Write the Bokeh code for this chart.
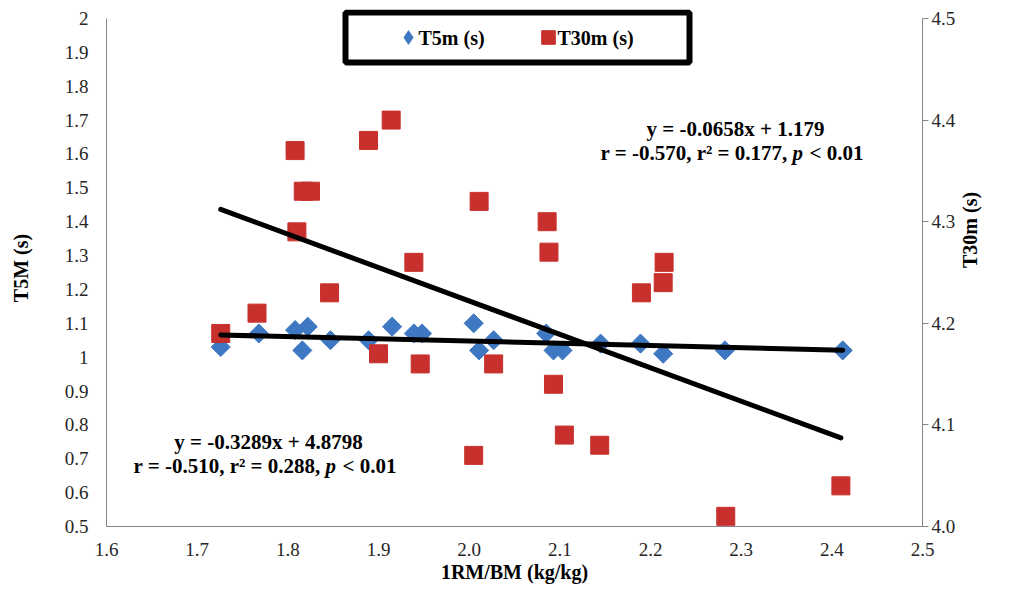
import numpy as np
from bokeh.plotting import figure
from bokeh.models import (Range1d, LinearAxis, FixedTicker, CustomJSTickFormatter,
                          Label, Legend, LegendItem, BoxAnnotation, Title)
from bokeh.embed import file_html
from bokeh.resources import INLINE

# ---------------- data ----------------
t5m_x = [1.726, 1.768, 1.808, 1.822, 1.816, 1.847, 1.889, 1.915, 1.939, 1.948, 2.005,
         2.011, 2.027, 2.085, 2.093, 2.103, 2.145, 2.189, 2.214, 2.282, 2.412]
t5m_y = [1.03, 1.07, 1.08, 1.09, 1.02, 1.05, 1.05, 1.09, 1.07, 1.07, 1.10,
         1.02, 1.05, 1.07, 1.02, 1.02, 1.04, 1.04, 1.01, 1.02, 1.02]

t30m_x = [1.726, 1.766, 1.808, 1.817, 1.825, 1.810, 1.846, 1.889, 1.914, 1.939, 1.900,
          1.946, 2.011, 2.086, 2.088, 2.215, 2.214, 2.190, 2.027, 2.093, 2.105, 2.144,
          2.005, 2.410, 2.283]
t30m_y = [4.19, 4.21, 4.37, 4.33, 4.33, 4.29, 4.23, 4.38, 4.40, 4.26, 4.17,
          4.16, 4.32, 4.30, 4.27, 4.26, 4.24, 4.23, 4.16, 4.14, 4.09, 4.08,
          4.07, 4.04, 4.01]

fit_t5m = [-0.0658, 1.179]     # slope, intercept (left axis)
fit_t30m = [-0.3289, 4.8798]   # slope, intercept (right axis)

series_labels = ["T5m (s)", "T30m (s)"]

x_ticks = [1.6, 1.7, 1.8, 1.9, 2.0, 2.1, 2.2, 2.3, 2.4, 2.5]
x_tick_labels = ["1.6", "1.7", "1.8", "1.9", "2.0", "2.1", "2.2", "2.3", "2.4", "2.5"]
left_ticks = [0.5, 0.6, 0.7, 0.8, 0.9, 1.0, 1.1, 1.2, 1.3, 1.4, 1.5, 1.6, 1.7, 1.8, 1.9, 2.0]
left_tick_labels = ["0.5", "0.6", "0.7", "0.8", "0.9", "1", "1.1", "1.2", "1.3", "1.4",
                    "1.5", "1.6", "1.7", "1.8", "1.9", "2"]
right_ticks = [4.0, 4.1, 4.2, 4.3, 4.4, 4.5]
right_tick_labels = ["4.0", "4.1", "4.2", "4.3", "4.4", "4.5"]

eq_upper = ["y = -0.0658x + 1.179", "r = -0.570, r\u00b2 = 0.177,", "p", "< 0.01"]
eq_lower = ["y = -0.3289x + 4.8798", "r = -0.510, r\u00b2 = 0.288,", "p", "< 0.01"]

# ---------------- styles ----------------
BLUE = "#3F78C2"
RED = "#C8302D"
AXIS_COLOR = "#868686"
TICK_TEXT = "#262626"
SERIF = "Liberation Serif"

# frame: 816 x 517 px; axes span 508 px; 9 px of headroom above for the legend box
HEAD = 9.0
LEFT_SPAN = 508.0
y_top_left = left_ticks[-1] + HEAD / LEFT_SPAN * (left_ticks[-1] - left_ticks[0])
y_top_right = right_ticks[-1] + HEAD / LEFT_SPAN * (right_ticks[-1] - right_ticks[0])


def fmt(ticks, labels):
    return CustomJSTickFormatter(args=dict(t=ticks, l=labels), code="""
        for (let i = 0; i < t.length; i++) {
            if (Math.abs(tick - t[i]) < 1e-6) { return l[i]; }
        }
        return '';
    """)


p = figure(frame_width=816, frame_height=517,
           x_range=Range1d(x_ticks[0], x_ticks[-1]),
           y_range=Range1d(left_ticks[0], y_top_left),
           output_backend="svg", toolbar_location=None,
           min_border_left=106, min_border_right=72, min_border_top=9, min_border_bottom=63)
p.extra_y_ranges = {"t30": Range1d(right_ticks[0], y_top_right)}
p.xgrid.visible = False
p.ygrid.visible = False
p.outline_line_color = None
p.background_fill_color = "white"
p.border_fill_color = "white"

right_axis = LinearAxis(y_range_name="t30")
p.add_layout(right_axis, "right")

xaxis = p.xaxis[0]
yaxis = p.yaxis[0]
for ax in (xaxis, yaxis, right_axis):
    ax.axis_line_color = AXIS_COLOR
    ax.axis_line_width = 1
    ax.major_tick_line_color = AXIS_COLOR
    ax.minor_tick_line_color = None
    ax.major_tick_in = 0
    ax.major_label_text_font = SERIF
    ax.major_label_text_font_size = "19px"
    ax.major_label_text_color = TICK_TEXT
    ax.axis_label_text_font = SERIF
    ax.axis_label_text_font_style = "bold"
    ax.axis_label_text_font_size = "20px"
    ax.axis_label_text_color = "black"

xaxis.ticker = FixedTicker(ticks=x_ticks)
xaxis.formatter = fmt(x_ticks, x_tick_labels)
xaxis.major_tick_out = 0
xaxis.major_label_standoff = 16

yaxis.ticker = FixedTicker(ticks=left_ticks)
yaxis.formatter = fmt(left_ticks, left_tick_labels)
yaxis.bounds = (left_ticks[0], left_ticks[-1])
yaxis.major_tick_out = 0
yaxis.major_label_standoff = 18
yaxis.axis_label = "T5M (s)"
yaxis.axis_label_standoff = 30

right_axis.ticker = FixedTicker(ticks=right_ticks)
right_axis.formatter = fmt(right_ticks, right_tick_labels)
right_axis.bounds = (right_ticks[0], right_ticks[-1])
right_axis.major_tick_out = 6
right_axis.major_label_standoff = 3
right_axis.axis_label = "T30m (s)"
right_axis.axis_label_orientation = np.pi / 2
right_axis.axis_label_standoff = 12

p.add_layout(Title(text="1RM/BM (kg/kg)", align="center", offset=29, standoff=0,
                   text_font=SERIF, text_font_style="bold", text_font_size="20px",
                   text_color="black"), "below")

# ---------------- marks ----------------
blue_r = p.scatter(t5m_x, t5m_y, marker="square", angle=np.pi / 4, size=13.5,
                   fill_color=BLUE, line_color=BLUE)
red_r = p.scatter(t30m_x, t30m_y, marker="square", size=18,
                  fill_color=RED, line_color=RED, y_range_name="t30")
legend_proxy = p.scatter(t5m_x, t5m_y, marker="diamond", fill_color=BLUE, line_color=BLUE,
                         visible=False)

xs5 = [min(t5m_x), max(t5m_x)]
ys5 = [fit_t5m[0] * v + fit_t5m[1] for v in xs5]
p.line(xs5, ys5, line_width=5, line_color="black", line_cap="round")

xs30 = [min(t30m_x), max(t30m_x)]
ys30 = [fit_t30m[0] * v + fit_t30m[1] for v in xs30]
p.line(xs30, ys30, line_width=5, line_color="black", line_cap="round", y_range_name="t30")

# ---------------- legend ----------------
box = BoxAnnotation(left=239, right=583, bottom=464, top=514,
                    left_units="screen", right_units="screen",
                    bottom_units="screen", top_units="screen",
                    fill_color="white", fill_alpha=1.0,
                    line_color="black", line_width=6, line_alpha=1.0)
p.add_layout(box)

legend = Legend(items=[LegendItem(label=" ", renderers=[legend_proxy]),
                       LegendItem(label=" ", renderers=[red_r])],
                location=(285, 472), orientation="horizontal",
                glyph_width=34, glyph_height=34, label_standoff=0,
                label_width=100, spacing=6, padding=0, margin=0,
                border_line_color=None, background_fill_alpha=0.0,
                label_text_font_size="2px")
p.add_layout(legend)

# ---------------- texts ----------------
def lab(text, x, y, align="left", style="bold", size="21px"):
    p.add_layout(Label(x=x, y=y, x_units="screen", y_units="screen", text=text,
                       text_font=SERIF, text_font_style=style, text_font_size=size,
                       text_align=align, text_baseline="middle", text_color="black"))

lab(series_labels[0], 312, 489, size="20px")
lab(series_labels[1], 451, 489, size="20px")

# equations (upper)
lab(eq_upper[0], 629, 398, align="center")
lab(eq_upper[1], 494, 374)
lab(eq_upper[2], 686, 374, style="bold italic")
lab(eq_upper[3], 703, 374)
# equations (lower)
lab(eq_lower[0], 162, 85, align="center")
lab(eq_lower[1], 27, 61)
lab(eq_lower[2], 219, 61, style="bold italic")
lab(eq_lower[3], 236, 61)

open("out.html", "w").write(file_html(p, INLINE))
